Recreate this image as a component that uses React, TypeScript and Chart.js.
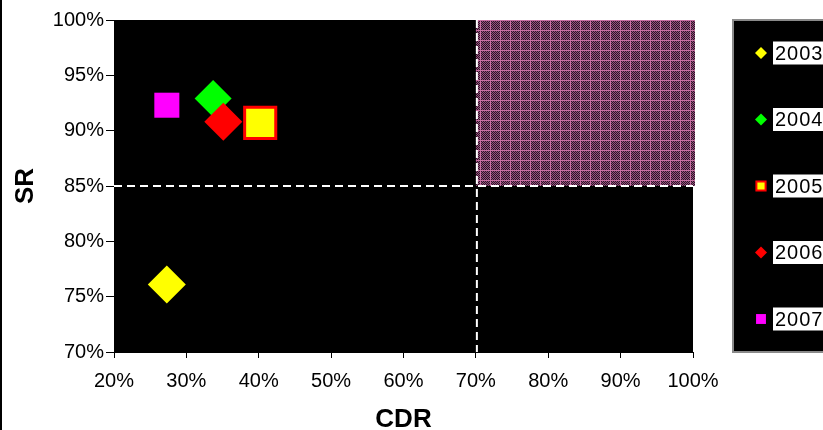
import React, { useEffect, useRef } from 'react';
import { Chart, registerables } from 'chart.js';

Chart.register(...registerables);

// ---- data ----
const years = ['2003', '2004', '2005', '2006', '2007'];
const cdrValues = [27.3, 33.7, 40.2, 35.1, 27.3];
const srValues = [76.1, 92.9, 90.7, 90.8, 92.3];
const cdrThreshold = 70;
const srThreshold = 85;
const cdrRange = [20, 100];
const srRange = [70, 100];
const cdrStep = 10;
const srStep = 5;
const xTitle = 'CDR';
const yTitle = 'SR';

// ---- styles ----
const fillColors = ['#ffff00', '#00ff00', '#ffff00', '#ff0000', '#ff00ff'];
const edgeColors = ['#ffff00', '#00ff00', '#ff0000', '#ff0000', '#ff00ff'];
const edgeWidths = [0, 0, 3, 0, 0];
const markerShapes = ['rectRot', 'rectRot', 'rect', 'rectRot', 'rect'];
const markerRadii = [19, 18.5, 22, 19, 17.7];
const legendRadii = [6, 6, 6.5, 6, 7];
const legendEdge = [0, 0, 2, 0, 0];

const FONT = '"Liberation Sans", Arial, sans-serif';

function makePattern(ctx: CanvasRenderingContext2D) {
  const c = document.createElement('canvas');
  c.width = 10;
  c.height = 10;
  const p = c.getContext('2d')!;
  for (let i = 0; i < 10; i++) {
    for (let j = 0; j < 10; j++) {
      p.fillStyle = (i + j) % 2 === 0 ? '#2c1626' : '#96507e';
      p.fillRect(i, j, 1, 1);
    }
  }
  p.fillStyle = '#c96fa3';
  p.fillRect(0, 0, 10, 1);
  p.fillRect(0, 0, 1, 10);
  return ctx.createPattern(c, 'repeat');
}

const decor = {
  id: 'decor',
  beforeDraw(chart: any) {
    const { ctx, chartArea: a, width, height } = chart;
    ctx.save();
    ctx.fillStyle = '#ffffff';
    ctx.fillRect(0, 0, width, height);
    ctx.fillStyle = '#000000';
    ctx.fillRect(a.left, a.top, a.right - a.left, a.bottom - a.top);
    ctx.fillRect(0, 0, 2, height);
    ctx.restore();
  },
  beforeDatasetsDraw(chart: any) {
    const { ctx, chartArea: a } = chart;
    const xs = chart.scales.x;
    const ys = chart.scales.y;
    const x0 = xs.getPixelForValue(cdrThreshold);
    const y0 = ys.getPixelForValue(srThreshold);
    ctx.save();
    ctx.fillStyle = makePattern(ctx);
    ctx.fillRect(x0, a.top, a.right + 2 - x0, y0 - a.top);
    ctx.strokeStyle = '#ffffff';
    ctx.lineWidth = 2;
    ctx.setLineDash([8, 5]);
    ctx.beginPath();
    ctx.moveTo(a.left, y0);
    ctx.lineTo(a.right, y0);
    ctx.stroke();
    ctx.beginPath();
    ctx.moveTo(x0 + 1, a.top);
    ctx.lineTo(x0 + 1, a.bottom);
    ctx.stroke();
    ctx.restore();
  },
  afterDraw(chart: any) {
    const { ctx, chartArea: a } = chart;
    const boxLeft = a.right + 40;
    ctx.save();
    ctx.fillStyle = '#000000';
    ctx.fillRect(boxLeft, a.top, 120, a.bottom - a.top);
    ctx.strokeStyle = '#8a8a8a';
    ctx.lineWidth = 2;
    ctx.strokeRect(boxLeft, a.top, 120, a.bottom - a.top);
    const step = (a.bottom - a.top - 66) / (years.length - 1);
    years.forEach((yr, i) => {
      const cy = a.top + 33 + step * i;
      const cx = boxLeft + 28;
      const r = legendRadii[i];
      ctx.beginPath();
      if (markerShapes[i] === 'rectRot') {
        ctx.moveTo(cx - r, cy);
        ctx.lineTo(cx, cy - r);
        ctx.lineTo(cx + r, cy);
        ctx.lineTo(cx, cy + r);
        ctx.closePath();
      } else {
        const s = r * Math.SQRT1_2;
        ctx.rect(cx - s, cy - s, 2 * s, 2 * s);
      }
      ctx.fillStyle = fillColors[i];
      ctx.fill();
      if (legendEdge[i] > 0) {
        ctx.strokeStyle = edgeColors[i];
        ctx.lineWidth = legendEdge[i];
        ctx.setLineDash([]);
        ctx.stroke();
      }
      ctx.fillStyle = '#ffffff';
      ctx.fillRect(cx + 12, cy - 11.5, 60, 23);
      ctx.fillStyle = '#000000';
      ctx.font = `20px ${FONT}`;
      (ctx as any).letterSpacing = '1px';
      ctx.textBaseline = 'middle';
      ctx.textAlign = 'left';
      ctx.fillText(yr, cx + 14, cy + 1);
      (ctx as any).letterSpacing = '0px';
    });
    ctx.restore();
  },
};

export default function App() {
  const ref = useRef<HTMLCanvasElement | null>(null);

  useEffect(() => {
    document.body.style.margin = '0';
    const canvas = ref.current!;
    const datasets = years.map((yr, i) => ({
      label: yr,
      data: [{ x: cdrValues[i], y: srValues[i] }],
      pointStyle: markerShapes[i],
      pointRadius: markerRadii[i],
      pointHoverRadius: markerRadii[i],
      backgroundColor: fillColors[i],
      borderColor: edgeColors[i],
      borderWidth: edgeWidths[i],
      order: years.length - i,
    }));
    const chart = new Chart(canvas, {
      type: 'scatter',
      data: { datasets },
      plugins: [decor],
      options: {
        animation: false,
        responsive: false,
        devicePixelRatio: 1,
        layout: { autoPadding: false, padding: { left: 0, top: 20, right: 130, bottom: 0 } },
        plugins: { legend: { display: false }, tooltip: { enabled: false } },
        scales: {
          x: {
            type: 'linear',
            min: cdrRange[0],
            max: cdrRange[1],
            afterFit: (s: any) => {
              s.height = 78;
              s.paddingLeft = 0;
              s.paddingRight = 0;
            },
            ticks: {
              stepSize: cdrStep,
              color: '#000',
              padding: 11,
              font: { family: FONT, size: 20 },
              callback: (v: any) => `${v}%`,
            },
            grid: { drawOnChartArea: false, drawTicks: true, tickLength: 6, color: '#000' },
            border: { color: '#000' },
            title: {
              display: true,
              text: xTitle,
              color: '#000',
              font: { family: FONT, size: 26, weight: 'bold', lineHeight: 1 },
              padding: { top: 0, bottom: -3 },
            },
          },
          y: {
            type: 'linear',
            min: srRange[0],
            max: srRange[1],
            afterFit: (s: any) => {
              s.width = 114;
              s.paddingTop = 0;
              s.paddingBottom = 0;
            },
            ticks: {
              stepSize: srStep,
              color: '#000',
              padding: 2,
              font: { family: FONT, size: 20 },
              callback: (v: any) => `${v}%`,
            },
            grid: { drawOnChartArea: false, drawTicks: true, tickLength: 8, color: '#000' },
            border: { color: '#000' },
            title: {
              display: true,
              text: yTitle,
              color: '#000',
              font: { family: FONT, size: 26, weight: 'bold', lineHeight: 1 },
              padding: { top: 13, bottom: 0 },
            },
          },
        },
      } as any,
    });
    return () => chart.destroy();
  }, []);

  return <canvas ref={ref} width={823} height={430} style={{ display: 'block' }} />;
}
